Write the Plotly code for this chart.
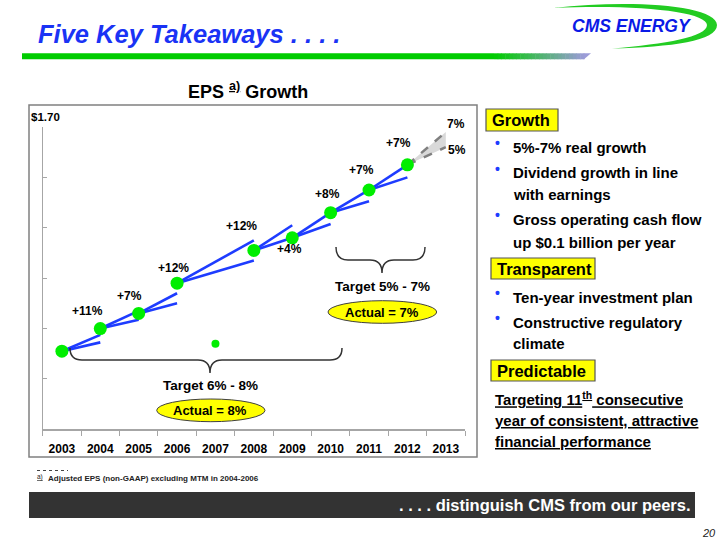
import plotly.graph_objects as go

W, H = 725, 545

# ---------------- data ----------------
years = [2003, 2004, 2005, 2006, 2007, 2008, 2009, 2010, 2011, 2012, 2013]
year_labels = [str(y) for y in years]
eps_years = [2003, 2004, 2005, 2006, 2008, 2009, 2010, 2011, 2012]
eps_values = [0.81, 0.90, 0.96, 1.08, 1.21, 1.26, 1.36, 1.45, 1.55]
outlier_years = [2007]
outlier_values = [0.84]
growth_labels = ["+11%", "+7%", "+12%", "+12%", "+4%", "+8%", "+7%", "+7%"]
fan_start_years = [2003, 2004, 2005, 2006, 2008, 2009, 2010, 2011]
fan_end_years = [2004, 2005, 2006, 2008, 2009, 2010, 2011, 2012]
fan_upper_values = [0.875, 0.97, 1.04, 1.25, 1.31, 1.36, 1.45, 1.55]
fan_lower_values = [0.845, 0.935, 1.00, 1.17, 1.26, 1.315, 1.405, 1.50]
proj_years = [2012, 2013]
proj_high = [1.55, 1.68]
proj_low = [1.55, 1.62]
proj_labels = ["7%", "5%"]
y_ticks = [0.5, 0.7, 0.9, 1.1, 1.3, 1.5, 1.7]
y_top_label = "$1.70"

# ---------------- styling / layout helpers ----------------
NARROW = "Liberation Sans Narrow, Arial Narrow, Liberation Sans, Arial, sans-serif"
SANS = "Liberation Sans, Arial, sans-serif"
BLUE = "#1E3CFF"
GREEN_DOT = "#00EE00"


def px(x):
    return x / W


def py(y):
    return 1 - y / H


def P(x, y):
    return f"{px(x):.5f},{py(y):.5f}"


fig = go.Figure()

# projection fill + dashed lines
fig.add_trace(go.Scatter(
    x=proj_years + proj_years[::-1],
    y=proj_high + proj_low[::-1],
    fill="toself", fillcolor="#D9D9D9", line=dict(width=0),
    mode="lines", hoverinfo="skip", showlegend=False))
fig.add_trace(go.Scatter(
    x=proj_years + [None] + proj_years,
    y=proj_high + [None] + proj_low,
    mode="lines", line=dict(color="#808080", width=2.5, dash="dash"),
    hoverinfo="skip", showlegend=False))

# fan lines
eps_lookup = dict(zip(eps_years, eps_values))
fx, fy = [], []
for s, e, up, lo in zip(fan_start_years, fan_end_years, fan_upper_values, fan_lower_values):
    v0 = eps_lookup[s]
    fx += [s, e, None, s, e, None]
    fy += [v0, up, None, v0, lo, None]
fig.add_trace(go.Scatter(x=fx, y=fy, mode="lines",
                         line=dict(color=BLUE, width=2.6),
                         hoverinfo="skip", showlegend=False))

# points
fig.add_trace(go.Scatter(x=eps_years, y=eps_values, mode="markers",
                         marker=dict(color=GREEN_DOT, size=13, line=dict(width=0)),
                         showlegend=False))
fig.add_trace(go.Scatter(x=outlier_years, y=outlier_values, mode="markers",
                         marker=dict(color=GREEN_DOT, size=8, line=dict(width=0)),
                         showlegend=False))

shapes = []
annotations = []


def text(x, y, t, size, color="#000000", family=NARROW, xanchor="center", yanchor="middle"):
    annotations.append(dict(x=px(x), y=py(y), xref="paper", yref="paper", text=t,
                            showarrow=False, xanchor=xanchor, yanchor=yanchor,
                            font=dict(family=family, size=size, color=color)))


def rect(x0, y0, x1, y1, fill, line=None, lw=0):
    shapes.append(dict(type="rect", xref="paper", yref="paper",
                       x0=px(x0), x1=px(x1), y0=py(y1), y1=py(y0),
                       fillcolor=fill, line=dict(color=line or fill, width=lw), layer="below"))


# title
text(36, 34, "<b><i>Five Key Takeaways . . . .</i></b>", 25.5, "#1A33F5", xanchor="left")
# green bar with gradient end
rect(22, 53.3, 494, 59.3, "#00CC00")
g0, g1 = (0x00, 0xCC, 0x00), (0x9C, 0x9C, 0xD8)
N = 24
for i in range(N):
    t = (i + 0.5) / N
    c = tuple(int(g0[k] + (g1[k] - g0[k]) * t) for k in range(3))
    xa = 494 + (584 - 494) * i / N
    xb = 494 + (584 - 494) * (i + 1) / N + 0.5
    rect(xa, 53.3, xb, 59.3, "#%02x%02x%02x" % c)
shapes.append(dict(type="path", xref="paper", yref="paper",
                   path=f"M {P(583.5,53.3)} L {P(591,53.3)} L {P(584,59.3)} L {P(583.5,59.3)} Z",
                   fillcolor="#9C9CD8", line=dict(width=0)))

# logo
shapes.append(dict(type="path", xref="paper", yref="paper",
                   path=(f"M {P(553,8)} C {P(630,-1)} {P(717,5)} {P(717,25)} "
                         f"C {P(717,41)} {P(672,47)} {P(612,48.5)} "
                         f"C {P(666,44)} {P(707,37)} {P(707,25)} "
                         f"C {P(707,12)} {P(640,4)} {P(553,8)} Z"),
                   fillcolor="#22CC22", line=dict(width=0)))
text(631, 26, "<b><i>CMS ENERGY</i></b>", 17.5, "#0A1AE6", family=SANS)

# chart title
text(248, 90, "<b>EPS <sup><u>a)</u></sup> Growth</b>", 18)

# chart frame
shapes.append(dict(type="rect", xref="paper", yref="paper",
                   x0=px(29), x1=px(477), y0=py(457), y1=py(105),
                   line=dict(color="#808080", width=1.5), fillcolor="rgba(0,0,0,0)", layer="below"))

# top y label
text(45, 117, f"<b>{y_top_label}</b>", 11.5)

# growth labels
growth_label_pos = [(87, 311), (129, 296), (173, 268), (242, 226),
                    (289, 249), (327, 194), (361, 170), (398, 143)]
for lab, (gx, gy) in zip(growth_labels, growth_label_pos):
    text(gx, gy, f"<b>{lab}</b>", 12)
proj_label_pos = [(456, 124), (457, 150)]
for lab, (gx, gy) in zip(proj_labels, proj_label_pos):
    text(gx, gy, f"<b>{lab}</b>", 12)

# braces
shapes.append(dict(type="path", xref="paper", yref="paper",
                   path=(f"M {P(70,348)} Q {P(70,360)} {P(82,360)} L {P(198,360)} "
                         f"Q {P(210,360)} {P(210,373)} Q {P(210,360)} {P(222,360)} "
                         f"L {P(330,360)} Q {P(342,360)} {P(342,348)}"),
                   line=dict(color="#333333", width=1.5)))
shapes.append(dict(type="path", xref="paper", yref="paper",
                   path=(f"M {P(336,247)} Q {P(336,260)} {P(348,260)} L {P(370,260)} "
                         f"Q {P(382,260)} {P(382,273)} Q {P(382,260)} {P(394,260)} "
                         f"L {P(413,260)} Q {P(425,260)} {P(425,247)}"),
                   line=dict(color="#333333", width=1.5)))

# targets & actual ellipses
text(210, 385, "<b>Target 6% - 8%</b>", 13.5)
shapes.append(dict(type="circle", xref="paper", yref="paper",
                   x0=px(156.7), x1=px(265), y0=py(421.7), y1=py(399),
                   fillcolor="#FFFF00", line=dict(color="#404040", width=1)))
text(210, 410, "<b>Actual = 8%</b>", 13)
text(382, 286, "<b>Target 5% - 7%</b>", 13.5)
shapes.append(dict(type="circle", xref="paper", yref="paper",
                   x0=px(328), x1=px(436.7), y0=py(323.3), y1=py(300.7),
                   fillcolor="#FFFF00", line=dict(color="#404040", width=1)))
text(382, 312, "<b>Actual = 7%</b>", 13)

# right panel
headers = [("Growth", 486, 109, 558, 131), ("Transparent", 491, 258, 595, 279),
           ("Predictable", 491, 360, 595, 381)]
for lab, x0, y0, x1, y1 in headers:
    shapes.append(dict(type="rect", xref="paper", yref="paper",
                       x0=px(x0), x1=px(x1), y0=py(y1), y1=py(y0),
                       fillcolor="#FFFF00", line=dict(color="#555555", width=1.2)))
    text(x0 + 4, (y0 + y1) / 2 + 0.5, f"<b>{lab}</b>", 16.5, xanchor="left")

rows = [("5%-7% real growth", 147, True), ("Dividend growth in line", 173, True),
        ("with earnings", 194, False), ("Gross operating cash flow", 219, True),
        ("up $0.1 billion per year", 242, False), ("Ten-year investment plan", 297, True),
        ("Constructive regulatory", 322, True), ("climate", 343, False)]
for t, y, bullet in rows:
    if bullet:
        text(497, y - 4, "<b>•</b>", 14, BLUE, family=SANS)
    text(511, y, f"<b>{t}</b>", 15, xanchor="left")

pred_lines = ["Targeting 11<sup>th</sup> consecutive", "year of consistent, attractive",
              "financial performance"]
for t, y in zip(pred_lines, [398, 420, 441]):
    text(493, y, f"<b><u>{t}</u></b>", 15, xanchor="left")

# footnote
shapes.append(dict(type="line", xref="paper", yref="paper",
                   x0=px(37), x1=px(68), y0=py(470.5), y1=py(470.5),
                   line=dict(color="#444444", width=1, dash="3px,3px")))
text(40, 477, "<u>a)</u>", 6.5, "#222222", family=SANS)
text(46, 478, "<b>Adjusted EPS (non-GAAP) excluding MTM in 2004-2006</b>", 8, "#222222",
     xanchor="left")

# bottom bar
rect(29, 492, 695, 518, "#333333")
text(693, 505, "<b>. . . . distinguish CMS from our peers.</b>", 16.5, "#FFFFFF", xanchor="right")
text(709, 533, "<i>20</i>", 11, "#222222")

fig.update_layout(
    width=W, height=H, autosize=False,
    margin=dict(l=0, r=0, t=0, b=0),
    paper_bgcolor="white", plot_bgcolor="white",
    showlegend=False,
    shapes=shapes, annotations=annotations,
    xaxis=dict(domain=[px(42.7), px(465)], range=[2002.5, 2013.5],
               tickvals=years, ticktext=year_labels, ticks="",
               ticklabelstandoff=8,
               tickfont=dict(family=NARROW, size=12, color="#000000", weight="bold"),
               showline=True, linecolor="#A6A6A6", linewidth=1.2,
               showgrid=False, zeroline=False, fixedrange=True,
               minor=dict(tick0=2002.5, dtick=1, ticks="outside", ticklen=5,
                          tickcolor="#A6A6A6", tickwidth=1, showgrid=False)),
    yaxis=dict(domain=[py(429.3), py(127)], range=[0.5, 1.7],
               tickvals=y_ticks, ticks="inside", ticklen=4, tickcolor="#A6A6A6",
               showticklabels=False, showline=True, linecolor="#A6A6A6", linewidth=1.2,
               showgrid=False, zeroline=False, fixedrange=True),
)

fig.write_html("out.html", config={"displayModeBar": False, "staticPlot": True},
               post_script="document.body.style.margin='0';document.body.style.padding='0';")
